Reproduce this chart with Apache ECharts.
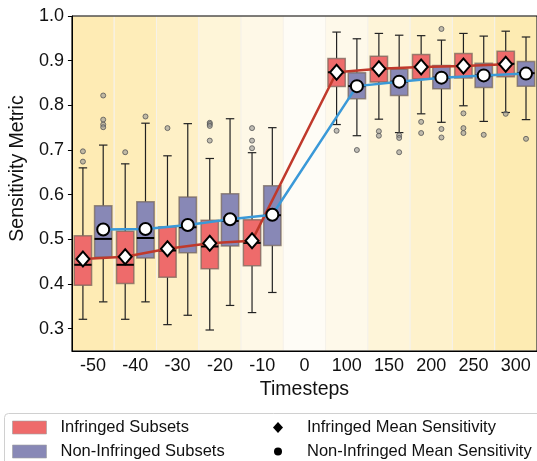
<!DOCTYPE html>
<html>
<head>
    <meta charset="utf-8">
    <title>Sensitivity Metric</title>
    <script src="https://cdn.jsdelivr.net/npm/echarts@6/dist/echarts.min.js"></script>
    <style>
        html, body { margin: 0; padding: 0; background: #fff; }
    </style>
</head>
<body>
<div id="main" style="width: 537px;height:461px;"></div>
<script type="text/javascript">
    // 横轴类别
    var categories = ['-50', '-40', '-30', '-20', '-10', '0', '100', '150', '200', '250', '300'];
    var yTicks = [0.3, 0.4, 0.5, 0.6, 0.7, 0.8, 0.9, 1.0];

    // 箱线: [下须, Q1, 中位数, Q3, 上须]
    var infringedBox = [
        [0.321, 0.397, 0.443, 0.508, 0.660],
        [0.321, 0.401, 0.443, 0.518, 0.669],
        [0.309, 0.415, 0.475, 0.528, 0.687],
        [0.297, 0.434, 0.484, 0.543, 0.681],
        [0.336, 0.441, 0.492, 0.544, 0.694],
        null,
        [0.757, 0.842, 0.874, 0.905, 0.964],
        [0.769, 0.852, 0.882, 0.910, 0.961],
        [0.781, 0.859, 0.886, 0.914, 0.956],
        [0.799, 0.861, 0.888, 0.916, 0.961],
        [0.784, 0.864, 0.893, 0.921, 0.966]
    ];
    var nonInfringedBox = [
        [0.360, 0.460, 0.501, 0.575, 0.711],
        [0.360, 0.458, 0.503, 0.584, 0.760],
        [0.330, 0.470, 0.527, 0.595, 0.759],
        [0.352, 0.485, 0.541, 0.602, 0.770],
        [0.381, 0.486, 0.554, 0.620, 0.750],
        null,
        [0.732, 0.815, 0.843, 0.873, 0.949],
        [0.739, 0.822, 0.853, 0.881, 0.957],
        [0.762, 0.837, 0.862, 0.889, 0.946],
        [0.764, 0.840, 0.867, 0.894, 0.955],
        [0.768, 0.843, 0.872, 0.898, 0.953]
    ];

    // 均值
    var infringedMean = [0.456, 0.461, 0.479, 0.491, 0.497, null, 0.874, 0.882, 0.886, 0.888, 0.892];
    var nonInfringedMean = [0.522, 0.523, 0.532, 0.545, 0.555, null, 0.843, 0.853, 0.862, 0.867, 0.871];

    // 离群点: [类别序号, 值]
    var infringedOutliers = [
        [0, 0.697], [0, 0.674], [1, 0.695], [2, 0.749],
        [3, 0.761], [3, 0.758], [3, 0.754], [3, 0.721],
        [4, 0.749], [4, 0.721], [4, 0.704],
        [6, 0.743], [7, 0.742], [7, 0.732], [8, 0.763], [8, 0.738],
        [9, 0.782], [9, 0.749], [9, 0.738], [10, 0.781]
    ];
    var nonInfringedOutliers = [
        [0, 0.822], [0, 0.768], [0, 0.757], [0, 0.751], [1, 0.775],
        [6, 0.700], [7, 0.733], [7, 0.727], [7, 0.695],
        [8, 0.971], [8, 0.747], [8, 0.728], [9, 0.734], [10, 0.725]
    ];

    // 背景色带
    var bandColors = ['#feebb4', '#feedb9', '#fef0c6', '#fef5d8', '#fef8e7', '#fefcf6',
        '#fef9ea', '#fef5d9', '#fef2cc', '#feeebd', '#fdebb2'];

    var FONT = "'Liberation Sans', Arial, sans-serif";
    var RED = '#ee6b6b', BLUE = '#8888b6';
    var OFFSET = 0.24;

    var myChart = echarts.init(document.getElementById('main'));

    function boxData(list) {
        var out = [];
        for (var i = 0; i < list.length; i++) {
            if (list[i]) out.push([i].concat(list[i]));
        }
        return out;
    }
    function meanData(list, side) {
        var out = [];
        for (var i = 0; i < list.length; i++) {
            if (list[i] != null) out.push([i + side * OFFSET, list[i]]);
        }
        return out;
    }
    function outlierData(list, side) {
        return list.map(function (d) { return [d[0] + side * OFFSET, d[1]]; });
    }

    function boxRenderer(side, fill) {
        return function (params, api) {
            var idx = api.value(0);
            var band = api.size([1, 0])[0];
            var cx = api.coord([idx, 0.5])[0] + side * band * OFFSET;
            var half = band * 0.205, capHalf = band * 0.1;
            var yLow = api.coord([idx, api.value(1)])[1];
            var yQ1 = api.coord([idx, api.value(2)])[1];
            var yMed = api.coord([idx, api.value(3)])[1];
            var yQ3 = api.coord([idx, api.value(4)])[1];
            var yHigh = api.coord([idx, api.value(5)])[1];
            var ws = {stroke: '#222', lineWidth: 1.2};
            return {
                type: 'group',
                children: [
                    {type: 'line', shape: {x1: cx, y1: yHigh, x2: cx, y2: yQ3}, style: ws},
                    {type: 'line', shape: {x1: cx, y1: yQ1, x2: cx, y2: yLow}, style: ws},
                    {type: 'line', shape: {x1: cx - capHalf, y1: yHigh, x2: cx + capHalf, y2: yHigh}, style: ws},
                    {type: 'line', shape: {x1: cx - capHalf, y1: yLow, x2: cx + capHalf, y2: yLow}, style: ws},
                    {type: 'rect', shape: {x: cx - half, y: yQ3, width: half * 2, height: yQ1 - yQ3},
                        style: {fill: fill, stroke: 'rgba(115,100,90,0.7)', lineWidth: 1.5}},
                    {type: 'line', shape: {x1: cx - half, y1: yMed, x2: cx + half, y2: yMed},
                        style: {stroke: '#000', lineWidth: 2}}
                ]
            };
        };
    }

    var option = {
        animation: false,
        textStyle: {fontFamily: FONT},
        grid: {
            left: 67, right: -2, top: 16, bottom: 110,
            show: true, borderColor: '#000', borderWidth: 1, backgroundColor: 'transparent'
        },
        legend: [
            {
                left: 7, top: 414, height: 80, orient: 'vertical', itemWidth: 34, itemHeight: 13, itemGap: 7,
                textStyle: {fontSize: 16.5, color: '#111', fontFamily: FONT, padding: [0, 0, 0, 9]},
                itemStyle: {borderColor: 'rgba(160,160,160,0.6)', borderWidth: 1},
                data: [{name: 'Infringed Subsets', icon: 'rect'}, {name: 'Non-Infringed Subsets', icon: 'rect'}]
            },
            {
                left: 268, top: 414, itemWidth: 10, itemHeight: 11,
                textStyle: {fontSize: 16.5, color: '#111', fontFamily: FONT, padding: [0, 0, 0, 19]},
                data: [{name: 'Infringed Mean Sensitivity', icon: 'diamond',
                    itemStyle: {color: '#000', borderWidth: 0}}]
            },
            {
                left: 269, top: 438, itemWidth: 8, itemHeight: 8,
                textStyle: {fontSize: 16.5, color: '#111', fontFamily: FONT, padding: [0, 0, 0, 20]},
                data: [{name: 'Non-Infringed Mean Sensitivity', icon: 'circle',
                    itemStyle: {color: '#000', borderWidth: 0}}]
            }
        ],
        graphic: [{
            type: 'rect', left: 4, top: 413, z: -10,
            shape: {width: 545, height: 60, r: 4},
            style: {fill: '#fff', stroke: '#d0d0d0', lineWidth: 1}
        }],
        xAxis: [
            {
                type: 'category', data: categories, boundaryGap: true,
                name: 'Timesteps', nameLocation: 'middle', nameGap: 28,
                nameTextStyle: {fontSize: 19.5, color: '#111', fontFamily: FONT},
                axisLine: {lineStyle: {color: '#000', width: 1}},
                axisTick: {alignWithLabel: true, length: 4, lineStyle: {color: '#000'}},
                axisLabel: {fontSize: 18, color: '#111', margin: 6, fontFamily: FONT, interval: 0},
                splitLine: {show: false}
            },
            {type: 'value', min: -0.5, max: 10.5, show: false}
        ],
        yAxis: {
            type: 'value', min: 0.25, max: 1.0,
            name: 'Sensitivity Metric', nameLocation: 'middle', nameGap: 36, nameRotate: 90,
            nameTextStyle: {fontSize: 19.5, color: '#111', fontFamily: FONT, padding: [0, 0, 0, 30]},
            axisLine: {show: true, onZero: false, lineStyle: {color: '#000', width: 1}},
            axisTick: {show: true, length: 4, lineStyle: {color: '#000'}, customValues: yTicks},
            axisLabel: {
                fontSize: 18, color: '#111', margin: 8, fontFamily: FONT, customValues: yTicks,
                formatter: function (v) { return v.toFixed(1); }
            },
            splitLine: {show: false}
        },
        series: [
            {
                type: 'custom', name: 'bands', silent: true, z: -5, xAxisIndex: 0,
                data: categories.map(function (c, i) { return [i]; }),
                renderItem: function (params, api) {
                    var band = api.size([1, 0])[0];
                    var cx = api.coord([api.value(0), 0.5])[0];
                    var cs = params.coordSys;
                    return {
                        type: 'rect',
                        shape: {x: cx - band / 2, y: cs.y, width: band, height: cs.height},
                        style: {fill: bandColors[params.dataIndex], stroke: '#f6f2ea', lineWidth: 1}
                    };
                }
            },
            {
                type: 'custom', name: 'Infringed Subsets', xAxisIndex: 0, z: 2,
                itemStyle: {color: RED},
                encode: {x: 0, y: [1, 2, 3, 4, 5]},
                data: boxData(infringedBox),
                renderItem: boxRenderer(-1, RED)
            },
            {
                type: 'custom', name: 'Non-Infringed Subsets', xAxisIndex: 0, z: 2,
                itemStyle: {color: BLUE},
                encode: {x: 0, y: [1, 2, 3, 4, 5]},
                data: boxData(nonInfringedBox),
                renderItem: boxRenderer(1, BLUE)
            },
            {
                type: 'scatter', name: 'out1', xAxisIndex: 1, z: 3, silent: true,
                symbolSize: 5,
                itemStyle: {color: 'rgba(150,150,150,0.75)', borderColor: '#555', borderWidth: 1},
                data: outlierData(infringedOutliers, -1)
            },
            {
                type: 'scatter', name: 'out2', xAxisIndex: 1, z: 3, silent: true,
                symbolSize: 5,
                itemStyle: {color: 'rgba(150,150,150,0.75)', borderColor: '#555', borderWidth: 1},
                data: outlierData(nonInfringedOutliers, 1)
            },
            {
                type: 'line', name: 'Infringed Mean Sensitivity', xAxisIndex: 1, z: 4,
                symbol: 'diamond', symbolSize: [13, 15], showAllSymbol: true,
                lineStyle: {color: '#c0392b', width: 2.5},
                itemStyle: {color: '#fff', borderColor: '#000', borderWidth: 2},
                data: meanData(infringedMean, -1)
            },
            {
                type: 'line', name: 'Non-Infringed Mean Sensitivity', xAxisIndex: 1, z: 4,
                symbol: 'circle', symbolSize: 12, showAllSymbol: true,
                lineStyle: {color: '#3a99d8', width: 2.5},
                itemStyle: {color: '#fff', borderColor: '#000', borderWidth: 2},
                data: meanData(nonInfringedMean, 1)
            }
        ]
    };

    myChart.setOption(option);
</script>
</body>
</html>
